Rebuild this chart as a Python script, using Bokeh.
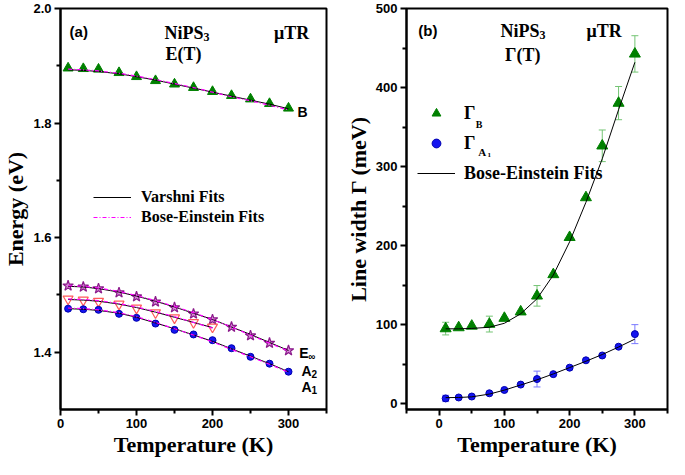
from bokeh.plotting import figure
from bokeh.layouts import row
from bokeh.models import (ColumnDataSource, Range1d, FixedTicker, Label, Legend,
                          LegendItem, Whisker, TeeHead, PrintfTickFormatter)
from bokeh.embed import file_html
from bokeh.resources import INLINE

SERIF = "Liberation Serif"
SANS = "Liberation Sans"

# ---------------- data: panel (a) energies (eV) ----------------
T = [10, 30, 50, 77, 100, 125, 150, 175, 200, 225, 250, 275, 300]
T_A2 = [10, 30, 50, 77, 100, 125, 150, 175, 200]
E_B = [1.896, 1.895, 1.894, 1.888, 1.881, 1.874, 1.868, 1.862, 1.855, 1.848, 1.842, 1.834, 1.826]
E_Einf = [1.516, 1.514, 1.511, 1.504, 1.497, 1.488, 1.478, 1.467, 1.457, 1.444, 1.429, 1.416, 1.403]
E_A2 = [1.493, 1.491, 1.489, 1.484, 1.477, 1.469, 1.460, 1.452, 1.444]
E_A1 = [1.476, 1.475, 1.474, 1.467, 1.460, 1.450, 1.439, 1.431, 1.421, 1.407, 1.392, 1.380, 1.366]

# fit curves
V_B = [1.893, 1.892, 1.890, 1.886, 1.881, 1.875, 1.868, 1.861, 1.854, 1.847, 1.840, 1.833, 1.825]
BE_B = [1.894, 1.893, 1.891, 1.887, 1.882, 1.876, 1.869, 1.862, 1.854, 1.846, 1.839, 1.831, 1.823]
V_Einf = [1.515, 1.514, 1.511, 1.505, 1.498, 1.489, 1.479, 1.468, 1.457, 1.444, 1.431, 1.417, 1.403]
BE_Einf = [1.516, 1.515, 1.512, 1.506, 1.499, 1.490, 1.480, 1.469, 1.457, 1.444, 1.430, 1.416, 1.402]
V_A2 = [1.492, 1.491, 1.489, 1.484, 1.478, 1.470, 1.461, 1.452, 1.443]
BE_A2 = [1.493, 1.492, 1.490, 1.485, 1.479, 1.471, 1.462, 1.452, 1.442]
V_A1 = [1.476, 1.475, 1.473, 1.468, 1.461, 1.451, 1.441, 1.430, 1.419, 1.406, 1.393, 1.380, 1.366]
BE_A1 = [1.477, 1.476, 1.474, 1.469, 1.462, 1.452, 1.441, 1.430, 1.418, 1.405, 1.392, 1.379, 1.365]

# ---------------- data: panel (b) line widths (meV) ----------------
G_B = [95.3, 96.6, 98.6, 101.0, 108.5, 116.6, 136.7, 163.7, 210.7, 261.0, 326.4, 380.4, 442.6]
G_B_err = [8, 0, 0, 10, 0, 0, 13, 0, 0, 0, 20, 21, 23]
G_A1 = [7.0, 8.2, 9.4, 13.5, 17.7, 24.5, 31.5, 37.7, 45.9, 55.2, 61.3, 72.4, 88.3]
G_A1_err = [4, 0, 0, 0, 0, 0, 10, 0, 0, 0, 0, 0, 12]
FIT_B = [95, 95, 95.5, 97, 102, 114, 133, 163, 205, 255, 310, 372, 432]
FIT_A1 = [8, 8.2, 9, 12.5, 17.5, 24, 30.5, 38, 46, 54, 62.5, 72, 82]

X_TICKS = [0, 100, 200, 300]
X_MINOR = [-50, 50, 150, 250, 350]
YA_TICKS = [1.4, 1.6, 1.8, 2.0]
YA_MINOR = [1.5, 1.7, 1.9]
YB_TICKS = [0, 100, 200, 300, 400, 500]
YB_MINOR = [50, 150, 250, 350, 450]

GREEN = "#008000"
BLUE = "#1414f0"
PURPLE = "#8b1a8b"
SALMON = "#ff5a5a"
MAGENTA = "#ff00ff"


def style(p, xt, xm, yt, ym):
    p.outline_line_color = "black"
    p.outline_line_width = 2
    p.xgrid.visible = False
    p.ygrid.visible = False
    p.xaxis.ticker = FixedTicker(ticks=xt, minor_ticks=xm)
    p.yaxis.ticker = FixedTicker(ticks=yt, minor_ticks=ym)
    for ax in (p.xaxis[0], p.yaxis[0]):
        ax.axis_line_width = 2
        ax.axis_line_color = "black"
        ax.major_tick_line_color = "black"
        ax.minor_tick_line_color = "black"
        ax.major_tick_line_width = 2
        ax.minor_tick_line_width = 2
        ax.major_tick_in = 0
        ax.major_tick_out = 6
        ax.minor_tick_in = 0
        ax.minor_tick_out = 4
        ax.major_label_text_font = SANS
        ax.major_label_text_font_style = "bold"
        ax.major_label_text_font_size = "13px"
        ax.major_label_text_color = "black"
        ax.axis_label_text_font = SERIF
        ax.axis_label_text_font_style = "bold"
        ax.axis_label_text_font_size = "22px"
        ax.axis_label_text_color = "black"
    p.xaxis.major_label_standoff = 3
    p.xaxis.axis_label_standoff = 1
    p.yaxis.major_label_standoff = 3
    p.yaxis.axis_label_standoff = 2


def lab(p, x, y, text, font, size, xo=0, yo=0):
    p.add_layout(Label(x=x, y=y, text=text, text_font=font, text_font_size=size,
                       text_font_style="bold", text_baseline="middle", text_align="left",
                       x_offset=xo, y_offset=yo, text_color="black"))


# ================= panel (a) =================
p1 = figure(width=342, height=459, output_backend="svg", toolbar_location=None,
            x_range=Range1d(0, 350), y_range=Range1d(1.3, 2.0),
            min_border_left=54, min_border_right=16, min_border_top=8, min_border_bottom=50,
            x_axis_label="Temperature (K)", y_axis_label="Energy (eV)")
style(p1, X_TICKS, X_MINOR, YA_TICKS, YA_MINOR)
p1.yaxis.formatter = PrintfTickFormatter(format="%.1f")

p1.scatter(T, E_B, marker="triangle", size=10, fill_color=GREEN, line_color=GREEN)
p1.scatter(T, E_Einf, marker="star", size=11, fill_color="#d58ad5", line_color=PURPLE, line_width=1.2)
p1.scatter(T_A2, E_A2, marker="inverted_triangle", size=10, fill_color=None, line_color=SALMON, line_width=1.2)
p1.scatter(T, E_A1, marker="circle", size=7, fill_color=BLUE, line_color="#0000b0")

rv = None
rbe = None
for tt, v, be in ((T, V_B, BE_B), (T, V_Einf, BE_Einf), (T_A2, V_A2, BE_A2), (T, V_A1, BE_A1)):
    r1 = p1.line(tt, v, line_color="black", line_width=1)
    r2 = p1.line(tt, be, line_color=MAGENTA, line_width=1.2, line_dash="4 2 1 2")
    if rv is None:
        rv, rbe = r1, r2

leg1 = Legend(items=[LegendItem(label="Varshni Fits", renderers=[rv]),
                     LegendItem(label="Bose-Einstein Fits", renderers=[rbe])],
              location=(33, 182), padding=0, spacing=0, margin=0,
              glyph_width=38, glyph_height=20, label_height=20, label_standoff=10,
              label_text_font=SERIF, label_text_font_style="bold", label_text_font_size="16px",
              label_text_color="black",
              border_line_alpha=0, background_fill_alpha=0)
p1.add_layout(leg1)

lab(p1, 12, 1.959, "(a)", SANS, "15px")
lab(p1, 137, 1.958, "NiPS", SERIF, "18px")
lab(p1, 137, 1.958, "3", SERIF, "12px", xo=39, yo=-4)
lab(p1, 138, 1.920, "E(T)", SERIF, "18px")
lab(p1, 281, 1.957, "\u03bcTR", SERIF, "18px")
lab(p1, 312, 1.819, "B", SANS, "14px")
lab(p1, 314, 1.398, "E", SANS, "14px")
lab(p1, 314, 1.398, "\u221e", SANS, "10px", xo=9, yo=-3)
lab(p1, 317, 1.368, "A", SANS, "14px")
lab(p1, 317, 1.368, "2", SANS, "10px", xo=10, yo=-3)
lab(p1, 317, 1.340, "A", SANS, "14px")
lab(p1, 317, 1.340, "1", SANS, "10px", xo=10, yo=-3)

# ================= panel (b) =================
p2 = figure(width=327, height=459, output_backend="svg", toolbar_location=None,
            x_range=Range1d(-50, 350), y_range=Range1d(-7, 500),
            min_border_left=57, min_border_right=2, min_border_top=8, min_border_bottom=50,
            x_axis_label="Temperature (K)", y_axis_label="Line width \u0393 (meV)")
style(p2, X_TICKS, X_MINOR, YB_TICKS, YB_MINOR)


def err_source(t, v, e):
    tt = [a for a, c in zip(t, e) if c > 0]
    up = [b + c for b, c in zip(v, e) if c > 0]
    lo = [b - c for b, c in zip(v, e) if c > 0]
    return ColumnDataSource(dict(t=tt, up=up, lo=lo))


for t, v, e, col in ((T, G_B, G_B_err, "#74c474"), (T, G_A1, G_A1_err, "#7a7aff")):
    w = Whisker(source=err_source(t, v, e), base="t", upper="up", lower="lo",
                line_color=col, line_width=1,
                upper_head=TeeHead(size=7, line_color=col, line_width=1),
                lower_head=TeeHead(size=7, line_color=col, line_width=1))
    p2.add_layout(w)

rgb = p2.scatter(T, G_B, marker="triangle", size=11, fill_color=GREEN, line_color=GREEN)
rga = p2.scatter(T, G_A1, marker="circle", size=7, fill_color=BLUE, line_color="#0000b0")
rf = p2.line(T, FIT_B, line_color="black", line_width=1)
p2.line(T, FIT_A1, line_color="black", line_width=1)

leg2 = Legend(items=[LegendItem(label="\u0393", renderers=[rgb]),
                     LegendItem(label="\u0393", renderers=[rga]),
                     LegendItem(label="Bose-Einstein Fits", renderers=[rf])],
              location=(11, 221), padding=0, spacing=0, margin=0,
              glyph_width=38, glyph_height=22, label_height=30, label_standoff=9,
              label_text_font=SERIF, label_text_font_style="bold", label_text_font_size="18px",
              label_text_color="black",
              border_line_alpha=0, background_fill_alpha=0)
p2.add_layout(leg2)

lab(p2, 56, 353, "B", SERIF, "10px")
lab(p2, 60, 318, "A", SERIF, "11px")
lab(p2, 74, 315, "1", SERIF, "7px")

lab(p2, -32, 472, "(b)", SANS, "15px")
lab(p2, 94, 471, "NiPS", SERIF, "18px")
lab(p2, 94, 471, "3", SERIF, "12px", xo=39, yo=-4)
lab(p2, 101, 441, "\u0393(T)", SERIF, "18px")
lab(p2, 226, 471, "\u03bcTR", SERIF, "18px")

layout = row(p1, p2)
open("out.html", "w").write(file_html(layout, INLINE))
